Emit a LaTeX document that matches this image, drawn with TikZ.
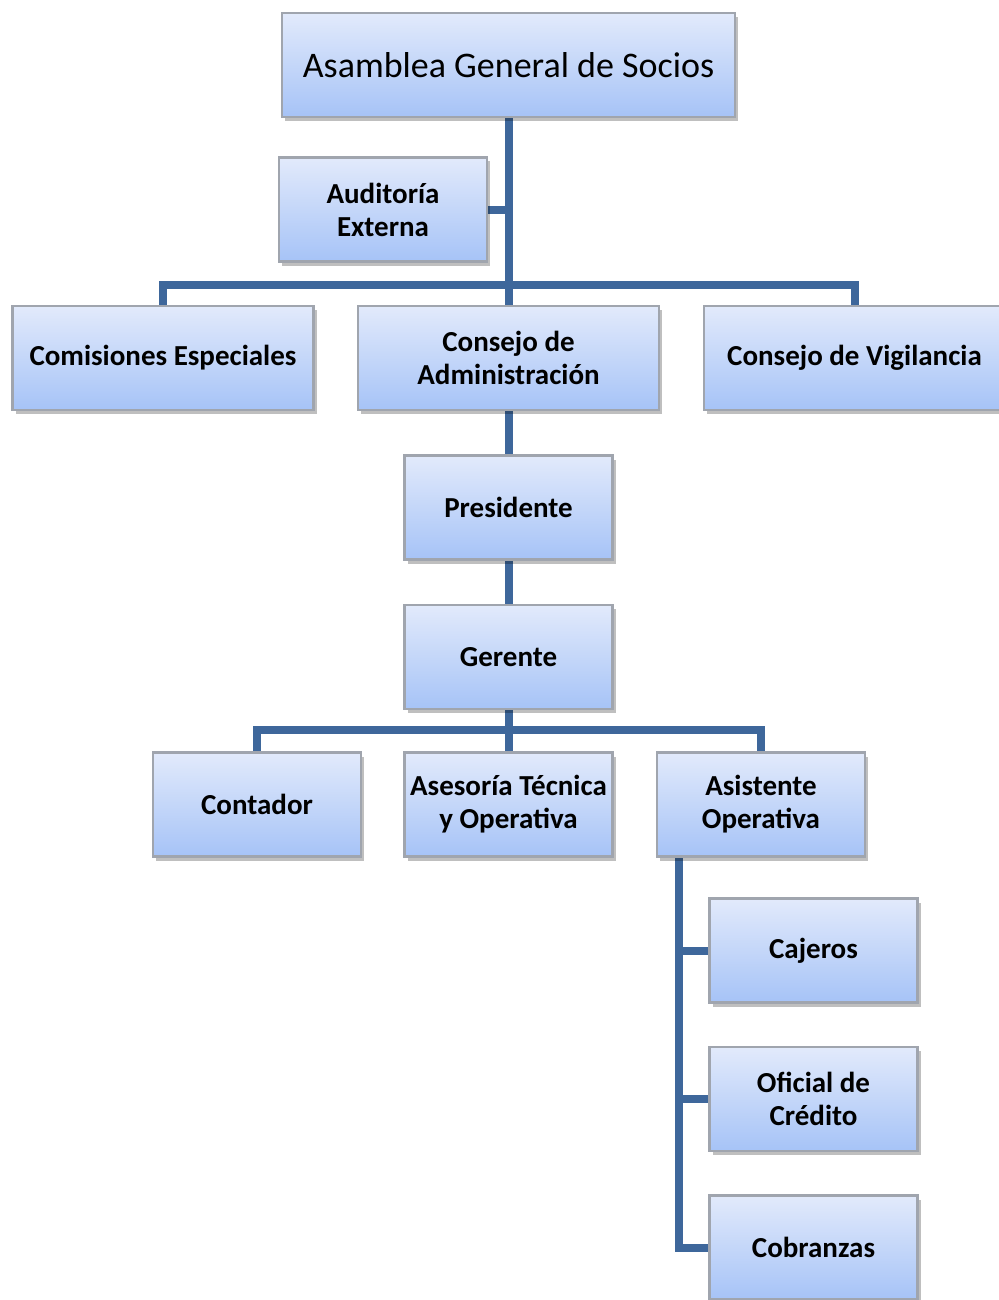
\documentclass[tikz,border=0pt]{standalone}
\usepackage{fontspec}
\setmainfont{Carlito}
\usepackage{tikz}
\usetikzlibrary{positioning, shadows, backgrounds}

\definecolor{boxtop}{HTML}{E2EAFB}
\definecolor{boxbottom}{HTML}{A6C3F7}
\definecolor{boxline}{HTML}{A0A5AE}
\definecolor{linkblue}{HTML}{3E679B}

\begin{document}
\begin{tikzpicture}[
    x=1pt, y=-1pt,
    orgbox/.style={rectangle, draw=boxline, line width=2.5pt, top color=boxtop, bottom color=boxbottom,
        minimum width=208pt, minimum height=104pt, align=center, inner sep=2pt,
        font=\fontsize{29}{33}\selectfont\bfseries,
        drop shadow={shadow xshift=3pt, shadow yshift=-4pt, fill=black, opacity=0.25}},
    widebox/.style={orgbox, minimum width=301pt},
    link/.style={draw=linkblue, line width=8pt},
]
\useasboundingbox (0,0) rectangle (998,1300);

\node[widebox, minimum width=453pt, font=\fontsize{36}{40}\selectfont](asamblea) at (508.5,65){Asamblea General de Socios};
\node[orgbox](auditoria) at (383,209.5){Auditoría\\Externa};
\node[widebox](comisiones) at (163,358){Comisiones Especiales};
\node[widebox](consejo) at (508.5,358){Consejo de\\Administración};
\node[widebox](vigilancia) at (854.5,358){Consejo de Vigilancia};
\node[orgbox](presidente)[below = 43pt of consejo]{Presidente};
\node[orgbox](gerente)[below = 43pt of presidente]{Gerente};
\node[orgbox](asesoria)[below = 41pt of gerente]{Asesoría Técnica\\y Operativa};
\node[orgbox](contador)[left = 41pt of asesoria]{Contador};
\node[orgbox](asistente)[right = 42pt of asesoria]{Asistente\\Operativa};
\node[orgbox](cajeros) at (813.5,950.5){Cajeros};
\node[orgbox](oficial)[below = 42pt of cajeros]{Oficial de\\Crédito};
\node[orgbox](cobranzas)[below = 42pt of oficial]{Cobranzas};

\coordinate (topbar) at (508.5,285);
\coordinate (midbar) at (508.5,730);
\coordinate (spine) at (679,857);

% connectors
\begin{scope}[on background layer]
\draw[link] (asamblea.south) -- (consejo.north);
\draw[link] (auditoria.east) -- (auditoria.east -| asamblea.south);
\draw[link] (comisiones.north) |- (topbar) -| (vigilancia.north);
\draw[link] (consejo.south) -- (presidente.north);
\draw[link] (presidente.south) -- (gerente.north);
\draw[link] (gerente.south) -- (asesoria.north);
\draw[link] (contador.north) |- (midbar) -| (asistente.north);
\draw[link] (spine) |- (cobranzas.west);
\draw[link] (spine |- cajeros.west) -- (cajeros.west);
\draw[link] (spine |- oficial.west) -- (oficial.west);
\end{scope}
\end{tikzpicture}
\end{document}
